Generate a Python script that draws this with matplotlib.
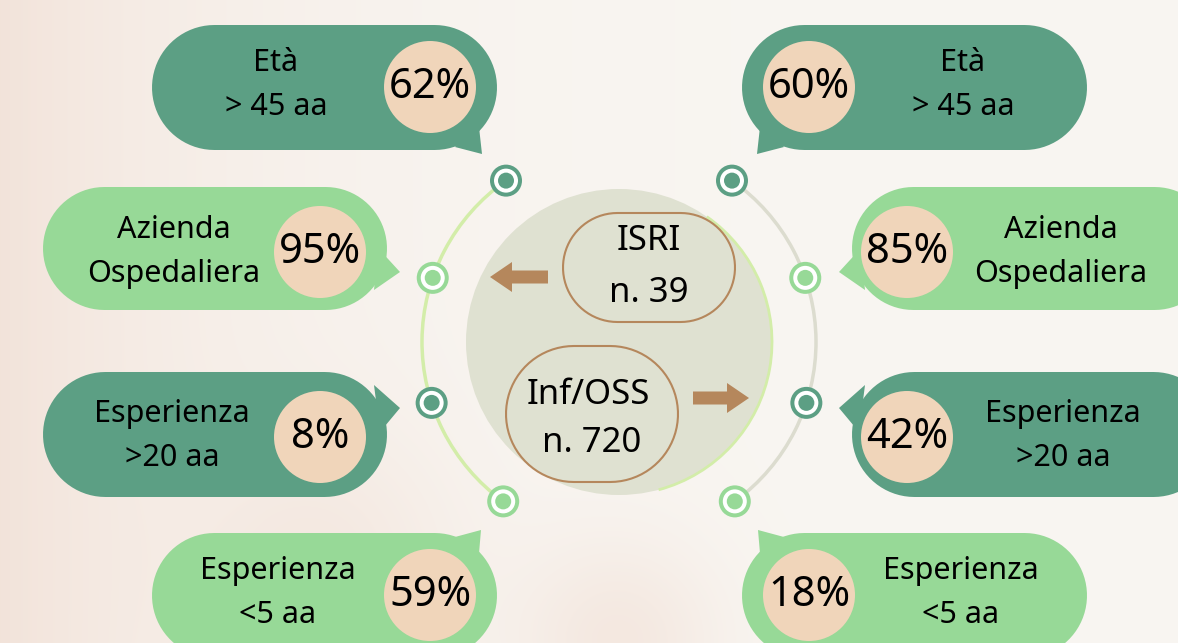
import numpy as np
import matplotlib
matplotlib.use("Agg")
import matplotlib.pyplot as plt
from matplotlib.patches import Polygon, Circle, Arc
from matplotlib.colors import to_rgb

# data
labels_top = ["Età", "Azienda", "Esperienza", "Esperienza"]
labels_bot = ["> 45 aa", "Ospedaliera", ">20 aa", "<5 aa"]
isri_pct = [62, 95, 8, 59]
infoss_pct = [60, 85, 42, 18]
groups = ["ISRI", "Inf/OSS"]
group_n = [39, 720]

# styles
DARK = "#5c9f84"
LIGHT = "#97d997"
PEACH = "#f0d5ba"
BG = "#f9f6f2"
TINT = "#f0ddd2"
CORE = "#dfe1d1"
BROWN = "#b5875c"
bubble_col = [DARK, LIGHT, DARK, LIGHT]
FONT = "Noto Sans"

# layout (pixels): left bubbles (x0, x1, y0, y1), circle center, text center, tail
left_boxes = [(152, 497, 25, 150), (43, 387, 187, 310), (43, 387, 372, 497), (152, 497, 533, 658)]
left_circ = [(430, 87), (320, 252), (320, 437), (430, 595)]
left_txt = [(276, 85), (174, 252), (172, 436), (278, 593)]
left_tail = [[(455, 147), (482, 154), (478, 118)],
             [(378, 248), (400, 272), (374, 290)],
             [(374, 385), (400, 408), (380, 432)],
             [(455, 537), (481, 530), (478, 565)]]
MIRROR = 1239

fig = plt.figure(figsize=(11.78, 6.43), dpi=100)
fig.patch.set_facecolor(BG)
ax = fig.add_axes([0, 0, 1, 1])
ax.set_xlim(0, 1178)
ax.set_ylim(643, 0)
ax.axis("off")

# soft marble-like tint in the background
gx, gy = np.meshgrid(np.arange(1178), np.arange(643))
w = 0.75 * np.exp(-gx / 230.0) + 0.5 * np.exp(-((gx - 620) ** 2 + (gy - 640) ** 2) / (2 * 70.0 ** 2))
w += 0.35 * np.exp(-((gx - 330) ** 2 + (gy - 560) ** 2) / (2 * 90.0 ** 2))
w = np.clip(w, 0, 1)[..., None]
img = (1 - w) * np.array(to_rgb(BG)) + w * np.array(to_rgb(TINT))
ax.imshow(img, extent=(0, 1178, 643, 0), zorder=0, aspect="auto")


def pill(x0, x1, y0, y1, **kw):
    r = (y1 - y0) / 2
    yc = (y0 + y1) / 2
    t = np.linspace(np.pi / 2, 3 * np.pi / 2, 40)
    left = np.column_stack([x0 + r + r * np.cos(t), yc - r * np.sin(t)])
    t2 = np.linspace(-np.pi / 2, np.pi / 2, 40)
    right = np.column_stack([x1 - r + r * np.cos(t2), yc - r * np.sin(t2)])
    return Polygon(np.vstack([left, right]), closed=True, **kw)


def bubble(box, col, tail, circ, top, bot, pct, txt):
    x0, x1, y0, y1 = box
    ax.add_patch(pill(x0, x1, y0, y1, fc=col, ec="none", zorder=2))
    ax.add_patch(Polygon(tail, closed=True, fc=col, ec="none", zorder=2))
    ax.add_patch(Circle(circ, 46, fc=PEACH, ec="none", zorder=3))
    ax.text(circ[0], circ[1], "%d%%" % pct, ha="center", va="center",
            fontsize=30, family=FONT, color="black", zorder=4)
    ax.text(txt[0], txt[1] - 22, top, ha="center", va="center",
            fontsize=22, family=FONT, color="black", zorder=4)
    ax.text(txt[0], txt[1] + 22, bot, ha="center", va="center",
            fontsize=22, family=FONT, color="black", zorder=4)


for i in range(4):
    bubble(left_boxes[i], bubble_col[i], left_tail[i], left_circ[i],
           labels_top[i], labels_bot[i], isri_pct[i], left_txt[i])
    x0, x1, y0, y1 = left_boxes[i]
    rbox = (MIRROR - x1, MIRROR - x0 + 20 * (i in (1, 2)), y0, y1)
    rtail = [(MIRROR - px, py) for px, py in left_tail[i]]
    rc = (MIRROR - left_circ[i][0] - 12 * (i in (1, 2)), left_circ[i][1])
    rt = (MIRROR - left_txt[i][0] - 4 * (i in (1, 2)), left_txt[i][1])
    bubble(rbox, bubble_col[i], rtail, rc, labels_top[i], labels_bot[i], infoss_pct[i], rt)

# outer arcs and nodes
cx, cy, R = 619, 342, 197
ax.add_patch(Arc((cx, cy), 2 * R, 2 * R, theta1=126, theta2=235, color="#d3eda9", lw=2.5, zorder=1))
ax.add_patch(Arc((cx, cy), 2 * R, 2 * R, theta1=-55, theta2=54, color="#dcdccf", lw=2.5, zorder=1))
left_ang = [235, 199, 162, 126]
right_ang = [-55, -19, 18, 54]
for angs in (left_ang, right_ang):
    for a, col in zip(angs, bubble_col):
        nx = cx + R * np.cos(np.radians(a))
        ny = cy + R * np.sin(np.radians(a))
        ax.add_patch(Circle((nx, ny), 16, fc=col, ec="none", zorder=5))
        ax.add_patch(Circle((nx, ny), 12, fc="white", ec="none", zorder=5))
        ax.add_patch(Circle((nx, ny), 8, fc=col, ec="none", zorder=5))

# core circle
ax.add_patch(Circle((cx, cy), 153, fc=CORE, ec="none", zorder=2))
ax.add_patch(Arc((cx, cy), 306, 306, theta1=-55, theta2=75, color="#d3eda9", lw=2, zorder=3))

# group ovals
ovals = [(563, 213, 172, 109), (506, 346, 172, 136)]
txt_pos = [(649, 241, 649, 293), (588, 395, 592, 443)]
for (ox, oy, ow, oh), (tx1, ty1, tx2, ty2), g, n in zip(ovals, txt_pos, groups, group_n):
    ax.add_patch(pill(ox, ox + ow, oy, oy + oh, fc=CORE, ec=BROWN, lw=1.5, zorder=4))
    ax.text(tx1, ty1, g, ha="center", va="center", fontsize=25, family=FONT, zorder=5)
    ax.text(tx2, ty2, "n. %d" % n, ha="center", va="center", fontsize=25, family=FONT, zorder=5)

# arrows
ax.arrow(548, 277, -36, 0, width=13, head_width=30, head_length=22,
         length_includes_head=False, fc=BROWN, ec="none", zorder=5)
ax.arrow(693, 398, 34, 0, width=13, head_width=30, head_length=22,
         length_includes_head=False, fc=BROWN, ec="none", zorder=5)

fig.savefig("out.png", dpi=100, facecolor=BG)
